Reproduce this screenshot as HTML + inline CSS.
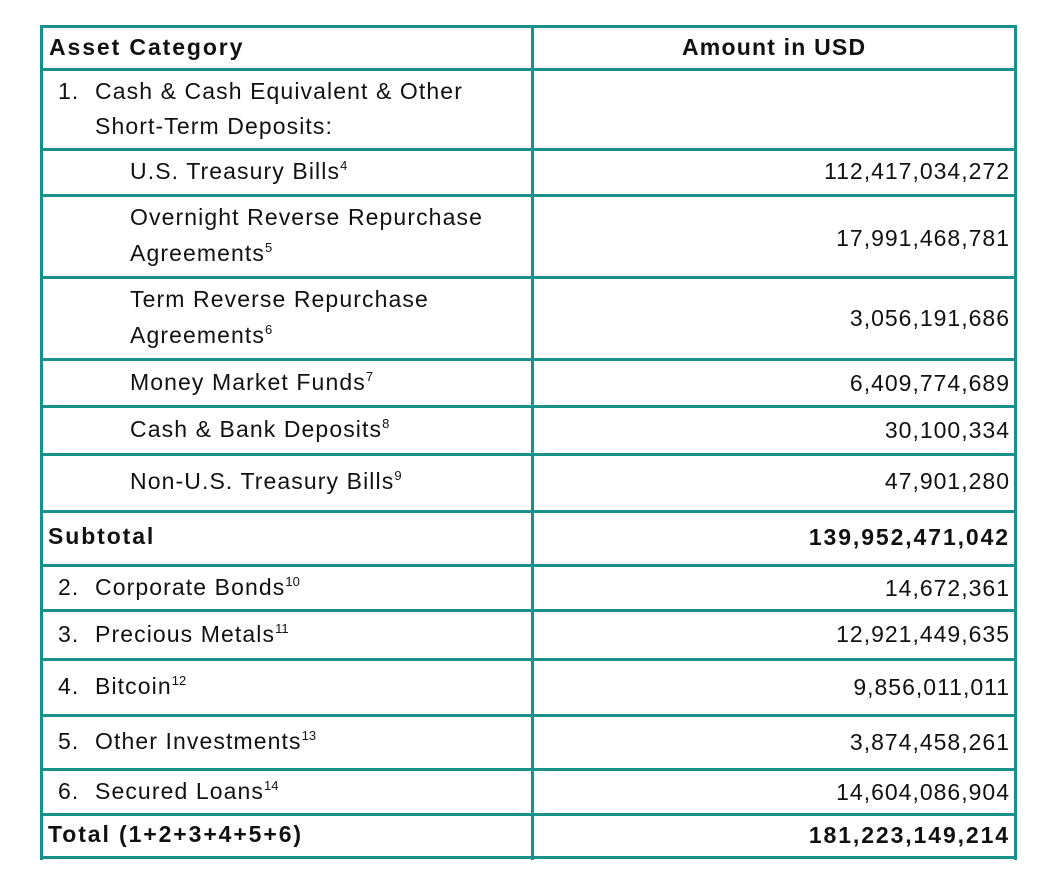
<!DOCTYPE html>
<html><head><meta charset="utf-8"><style>
body{margin:0;width:1059px;height:880px;background:#fff;position:relative;font-family:"Liberation Sans",sans-serif;color:#111;overflow:hidden}
.h{position:absolute;left:40px;width:977px;height:3px;background:#17918a}
.v{position:absolute;top:25px;height:835px;width:3px;background:#17918a}
.t{position:absolute;font-size:23px;letter-spacing:1.1px;line-height:36px;white-space:nowrap}
.r{position:absolute;right:49px;font-size:23px;letter-spacing:1px;white-space:nowrap;text-align:right}
b{font-weight:bold;letter-spacing:1.9px}
sup{font-size:13px;vertical-align:9px;line-height:0;letter-spacing:0}
</style></head><body>
<div class="h" style="top:25px"></div>
<div class="h" style="top:68px"></div>
<div class="h" style="top:148px"></div>
<div class="h" style="top:194px"></div>
<div class="h" style="top:276px"></div>
<div class="h" style="top:358px"></div>
<div class="h" style="top:405px"></div>
<div class="h" style="top:453px"></div>
<div class="h" style="top:510px"></div>
<div class="h" style="top:564px"></div>
<div class="h" style="top:609px"></div>
<div class="h" style="top:658px"></div>
<div class="h" style="top:714px"></div>
<div class="h" style="top:768px"></div>
<div class="h" style="top:813px"></div>
<div class="h" style="top:856px"></div>
<div class="v" style="left:40px"></div>
<div class="v" style="left:531px"></div>
<div class="v" style="left:1014px"></div>

<div class="t" style="left:49px;top:29px"><b>Asset Category</b></div>
<div class="t" style="left:682px;top:29px"><b style="letter-spacing:1.2px">Amount in USD</b></div>
<div class="t" style="left:58px;top:73px">1.</div>
<div class="t" style="left:95px;top:73px">Cash &amp; Cash Equivalent &amp; Other</div>
<div class="t" style="left:95px;top:108px">Short-Term Deposits:</div>
<div class="t" style="left:130px;top:153px">U.S. Treasury Bills<sup>4</sup></div>
<div class="t" style="left:130px;top:199px">Overnight Reverse Repurchase</div>
<div class="t" style="left:130px;top:235px">Agreements<sup>5</sup></div>
<div class="t" style="left:130px;top:281px">Term Reverse Repurchase</div>
<div class="t" style="left:130px;top:317px">Agreements<sup>6</sup></div>
<div class="t" style="left:130px;top:364px">Money Market Funds<sup>7</sup></div>
<div class="t" style="left:130px;top:411px">Cash &amp; Bank Deposits<sup>8</sup></div>
<div class="t" style="left:130px;top:463px">Non-U.S. Treasury Bills<sup>9</sup></div>
<div class="t" style="left:48px;top:518px"><b>Subtotal</b></div>
<div class="t" style="left:58px;top:569px">2.</div><div class="t" style="left:95px;top:569px">Corporate Bonds<sup>10</sup></div>
<div class="t" style="left:58px;top:616px">3.</div><div class="t" style="left:95px;top:616px">Precious Metals<sup>11</sup></div>
<div class="t" style="left:58px;top:668px">4.</div><div class="t" style="left:95px;top:668px">Bitcoin<sup>12</sup></div>
<div class="t" style="left:58px;top:723px">5.</div><div class="t" style="left:95px;top:723px">Other Investments<sup>13</sup></div>
<div class="t" style="left:58px;top:773px">6.</div><div class="t" style="left:95px;top:773px">Secured Loans<sup>14</sup></div>
<div class="t" style="left:48px;top:816px"><b>Total (1+2+3+4+5+6)</b></div>

<div class="r" style="top:158px">112,417,034,272</div>
<div class="r" style="top:225px">17,991,468,781</div>
<div class="r" style="top:305px">3,056,191,686</div>
<div class="r" style="top:370px">6,409,774,689</div>
<div class="r" style="top:417px">30,100,334</div>
<div class="r" style="top:468px">47,901,280</div>
<div class="r" style="top:524px"><b>139,952,471,042</b></div>
<div class="r" style="top:575px">14,672,361</div>
<div class="r" style="top:621px">12,921,449,635</div>
<div class="r" style="top:674px">9,856,011,011</div>
<div class="r" style="top:729px">3,874,458,261</div>
<div class="r" style="top:779px">14,604,086,904</div>
<div class="r" style="top:822px"><b>181,223,149,214</b></div>
</body></html>
